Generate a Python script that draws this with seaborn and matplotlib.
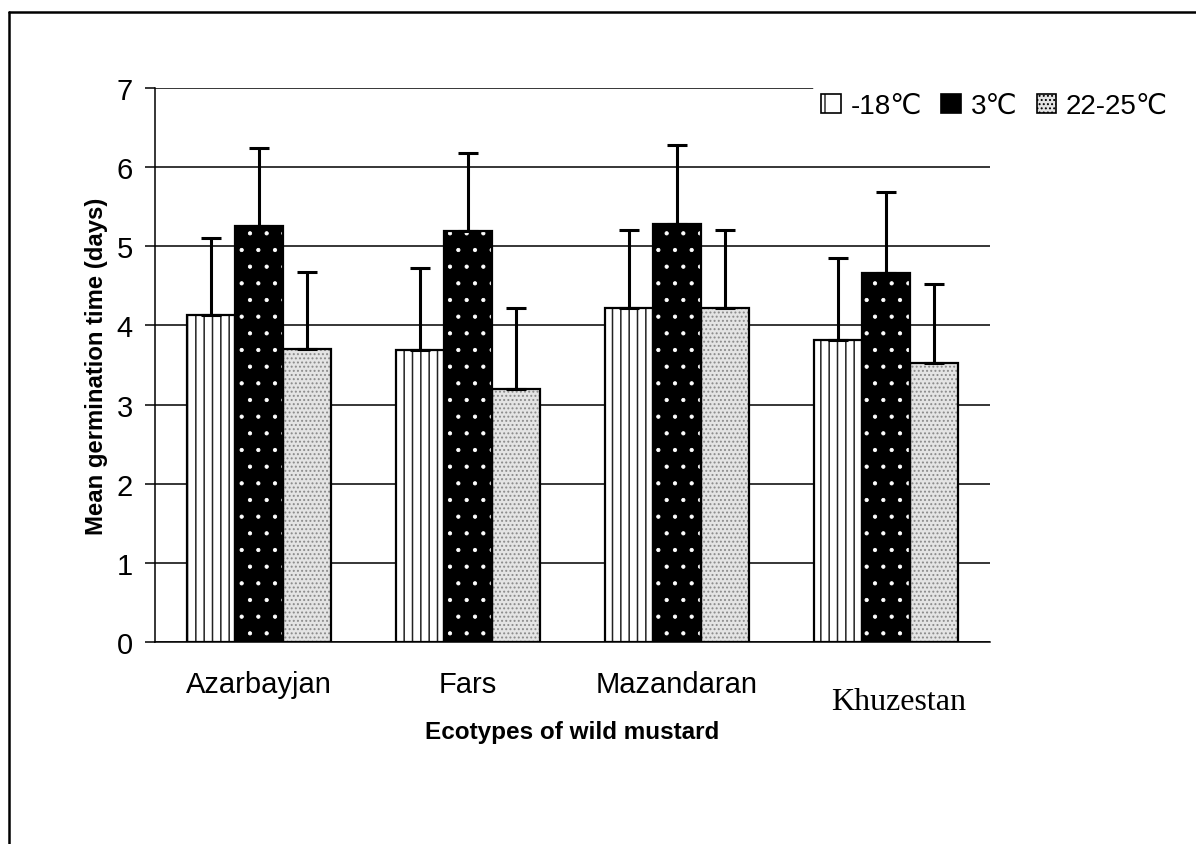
import matplotlib
matplotlib.use("Agg")
import numpy as np
import pandas as pd
import seaborn as sns
from matplotlib import pyplot as plt
from matplotlib.patches import Rectangle, Patch
from matplotlib.lines import Line2D
from matplotlib.transforms import ScaledTranslation

# values
ecotypes = ["Azarbayjan", "Fars", "Mazandaran", "Khuzestan"]
temps = ["-18\u2103", "3\u2103", "22-25\u2103"]
mean_cold = [4.13, 3.69, 4.22, 3.82]
mean_mid = [5.26, 5.19, 5.28, 4.66]
mean_warm = [3.70, 3.20, 4.22, 3.52]
err_cold = [0.98, 1.03, 0.99, 1.03]
err_mid = [0.98, 0.99, 1.00, 1.02]
err_warm = [0.98, 1.02, 0.99, 1.00]

df = pd.DataFrame({
    "Ecotype": ecotypes * 3,
    "Temperature": [t for t in temps for _ in ecotypes],
    "Time": mean_cold + mean_mid + mean_warm,
    "Err": err_cold + err_mid + err_warm,
})

sns.set_style("white")
plt.rcParams["font.family"] = ["Liberation Sans", "DejaVu Sans"]
plt.rcParams["hatch.linewidth"] = 0.9
for k in ["text.color", "axes.labelcolor", "xtick.color", "ytick.color"]:
    plt.rcParams[k] = "black"

fig = plt.figure(figsize=(11.96, 8.45), dpi=100)
ax = fig.add_axes([155 / 1196, 1 - 643 / 845, 835 / 1196, 554 / 845])

faces = ["white", "black", "#e4e4e4"]
hatches = ["||", ".", "...."]
hatch_cols = ["#222222", "white", "#8a8a8a"]
hatch_lws = [1.1, 0.6, 0.9]

sns.barplot(data=df, x="Ecotype", y="Time", hue="Temperature", order=ecotypes,
            hue_order=temps, palette=faces, saturation=1, width=0.69,
            errorbar=None, legend=False, ax=ax, zorder=2)

# patterns: hatch layer first, then a plain black outline on top
bar_groups = list(ax.containers)
for i, cont in enumerate(bar_groups):
    xs, ys = [], []
    for bar in cont:
        bar.set_facecolor(faces[i])
        bar.set_edgecolor(hatch_cols[i])
        bar.set_hatch(hatches[i])
        if hasattr(bar, "set_hatch_linewidth"):
            bar.set_hatch_linewidth(hatch_lws[i])
        bar.set_linewidth(0)
        ax.add_patch(Rectangle(bar.get_xy(), bar.get_width(), bar.get_height(),
                               fill=False, edgecolor="black", linewidth=1.6, zorder=3))
        xs.append(bar.get_x() + bar.get_width() / 2)
        ys.append(bar.get_height())
    sub = df[df["Temperature"] == temps[i]].set_index("Ecotype").loc[ecotypes]
    ax.errorbar(xs, ys, yerr=[np.zeros(len(xs)), sub["Err"].values], fmt="none",
                ecolor="black", elinewidth=2.2, capsize=7, capthick=2.2, zorder=4)

ax.set_ylim(0, 7)
ax.set_xlim(-0.5, 3.5)
ax.set_yticks(range(8))
ax.yaxis.grid(True, color="black", linewidth=1.1)
ax.set_axisbelow(True)
for s in ["top", "right"]:
    ax.spines[s].set_visible(False)
for s in ["left", "bottom"]:
    ax.spines[s].set_color("black")
    ax.spines[s].set_linewidth(1.1)

ax.set_xticks(np.arange(-0.5, 4, 1))
ax.set_xticklabels([])
ax.set_xticks(range(4), minor=True)
ax.set_xticklabels(ecotypes, minor=True, fontsize=21)
ax.tick_params(axis="x", which="major", direction="out", length=7, width=1.1, color="black")
ax.tick_params(axis="x", which="minor", length=0, pad=20.5)
ax.tick_params(axis="y", direction="out", length=7, width=1.1, color="black",
               labelsize=21, pad=9, left=True)

# last label in a serif face, a little lower and to the right, as in the original
lab = ax.get_xticklabels(minor=True)[-1]
lab.set_fontfamily("Liberation Serif")
lab.set_fontsize(23)
lab.set_transform(lab.get_transform()
                  + ScaledTranslation(9 / 72, -12 / 72, fig.dpi_scale_trans))

ax.set_xlabel("Ecotypes of wild mustard", fontsize=17.5, fontweight="bold", labelpad=3)
ax.set_ylabel("Mean germination time (days)", fontsize=17.2, fontweight="bold", labelpad=6)

handles = [Patch(facecolor=faces[i], edgecolor="black", hatch=h, linewidth=1.2)
           for i, h in enumerate(["|", "", "...."])]
leg = fig.legend(handles, temps, loc="upper right", bbox_to_anchor=(0.995, 0.915),
                 ncol=3, frameon=True, fontsize=20, handlelength=0.7, handleheight=0.7,
                 handletextpad=0.35, columnspacing=0.7, borderpad=0.3)
leg.get_frame().set_facecolor("white")
leg.get_frame().set_edgecolor("none")
leg.get_frame().set_alpha(1)

# outer frame of the figure (left and top edges)
fig.add_artist(Line2D([9 / 1196, 9 / 1196], [0, 1 - 13 / 845], color="black", linewidth=1.8))
fig.add_artist(Line2D([9 / 1196, 1], [1 - 13 / 845, 1 - 13 / 845], color="black", linewidth=1.8))

fig.savefig("out.png", dpi=100)
